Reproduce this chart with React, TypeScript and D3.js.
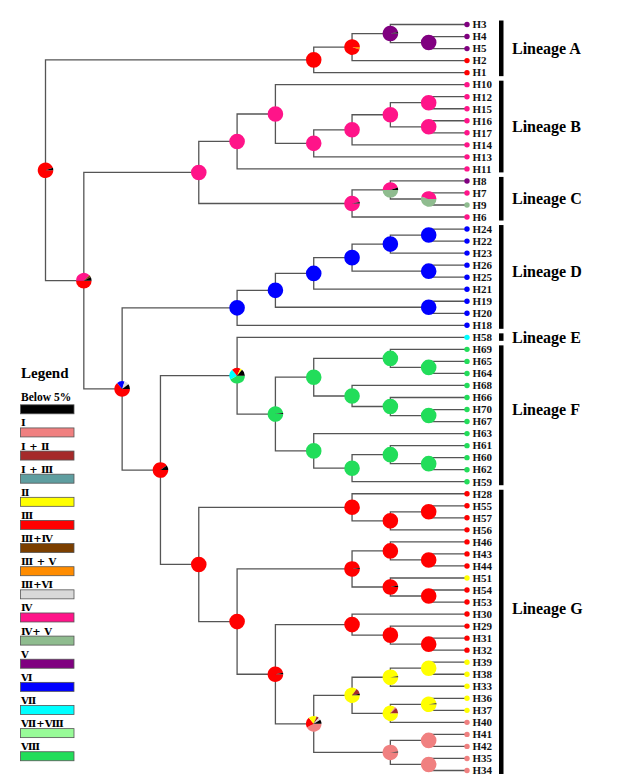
import React, { useMemo } from "react";
import * as d3 from "d3";

// ---------- data ----------
const regionKeys = ["B5", "I", "I+II", "I+III", "II", "III", "III+IV", "III+V", "III+VI", "IV", "IV+V", "V", "VI", "VII", "VII+VIII", "VIII"];
const regionLabels = ["Below 5%", "Ⅰ", "Ⅰ + Ⅱ", "Ⅰ + Ⅲ", "Ⅱ", "Ⅲ", "Ⅲ+Ⅳ", "Ⅲ + Ⅴ", "Ⅲ+Ⅵ", "Ⅳ", "Ⅳ+ Ⅴ", "Ⅴ", "Ⅵ", "Ⅶ", "Ⅶ+Ⅷ", "Ⅷ"];
const regionColors = ["#000000", "#F08080", "#A52A2A", "#5F9EA0", "#FFFF00", "#FF0000", "#7B3F00", "#FF8C00", "#D9D9D9", "#FF1489", "#8FBC8F", "#800080", "#0000FF", "#00FFFF", "#98FB98", "#22DD5A"];

// tree (Newick, internal nodes labelled)
const cladeA = "(((H3,(H4,H5)a4)a3,H2)a2,H1)a1";
const cladeB = "((H10,((((H12,H15)b6,(H16,H17)b7)b5,H14)b4,H13)b3)b2,H11)b1";
const cladeC = "((H8,(H7,H9)c3)c2,H6)c1";
const cladeD = "((((((H24,H22)d6,H23)d5,(H26,H25)d7)d4,H21)d3,(H19,H20)d8)d2,H18)d1";
const cladeF = "(((H69,(H65,H64)f4)f3,(H68,(H66,(H70,H67)f7)f6)f5)f2,(H63,((H61,(H60,H62)f11)f10,H59)f9)f8)f1";
const cladeG = "((H28,((H55,H57)g4,H56)g3)g2,(((H46,(H43,H44)g8)g7,(H51,(H54,H53)g10)g9)g6,((H30,(H29,(H31,H32)g14)g13)g12,((((H39,H38)g18,H33)g17,((H36,H37)g20,H40)g19)g16,((H41,H42)g22,(H35,H34)g23)g21)g15)g11)g5)g1";
const newick = `(${cladeA},((${cladeB},${cladeC})bc,(${cladeD},((H58,${cladeF})ef,${cladeG})n160)n122)n84)root;`;

// tip regions
const tipNames = ["H3", "H4", "H5", "H2", "H1", "H10", "H12", "H15", "H16", "H17", "H14", "H13", "H11", "H8", "H7", "H9", "H6",
  "H24", "H22", "H23", "H26", "H25", "H21", "H19", "H20", "H18", "H58", "H69", "H65", "H64", "H68", "H66", "H70", "H67", "H63", "H61", "H60", "H62", "H59",
  "H28", "H55", "H57", "H56", "H46", "H43", "H44", "H51", "H54", "H53", "H30", "H29", "H31", "H32", "H39", "H38", "H33", "H36", "H37", "H40", "H41", "H42", "H35", "H34"];
const tipRegions = ["V", "V", "V", "III", "III", "IV", "IV", "IV", "IV", "IV", "IV", "IV", "IV", "V", "IV", "IV+V", "IV",
  "VI", "VI", "VI", "VI", "VI", "VI", "VI", "VI", "VI", "VII", "VIII", "VIII", "VIII", "VIII", "VIII", "VIII", "VIII", "VIII", "VIII", "VIII", "VIII", "VIII",
  "III", "III", "III", "III", "III", "III", "III", "II", "III", "III", "III", "III", "III", "III", "II", "II", "II", "II", "II", "I", "I", "I", "I", "I"];

// ancestral-state pies (clockwise from 3 o'clock)
const pieNodes = ["root", "a1", "a2", "a3", "a4", "n84", "bc", "b1", "b2", "b3", "b4", "b5", "b6", "b7", "c1", "c2", "c3",
  "n122", "d1", "d2", "d3", "d4", "d5", "d6", "d7", "d8", "n160", "ef", "f1", "f2", "f3", "f4", "f5", "f6", "f7", "f8", "f9", "f10", "f11",
  "g1", "g2", "g3", "g4", "g5", "g6", "g7", "g8", "g9", "g10", "g11", "g12", "g13", "g14", "g15", "g16", "g17", "g18", "g19", "g20", "g21", "g22", "g23"];
const pieRegions: string[][] = [
  ["III", "B5"], ["III"], ["III+V", "III"], ["V", "B5"], ["V"], ["III", "IV", "III+IV", "B5"], ["IV"], ["IV"], ["IV"], ["IV"], ["IV"], ["IV"], ["IV"], ["IV"], ["IV", "B5"], ["IV+V", "IV", "B5"], ["IV+V", "IV"],
  ["III", "VI", "III+VI", "B5"], ["VI"], ["VI"], ["VI"], ["VI"], ["VI"], ["VI"], ["VI"], ["VI"], ["III", "B5"], ["VIII", "VII", "III", "II", "B5"], ["VIII", "B5"], ["VIII"], ["VIII"], ["VIII"], ["VIII"], ["VIII"], ["VIII"], ["VIII"], ["VIII"], ["VIII"], ["VIII"],
  ["III"], ["III"], ["III"], ["III"], ["III"], ["III", "B5"], ["III"], ["III"], ["III", "B5"], ["III"], ["III", "B5"], ["III"], ["III"], ["III"], ["I", "III", "II", "I+II", "III+VI", "B5"], ["II", "I+II", "B5"], ["II", "B5"], ["II"], ["II", "I", "I+II"], ["II", "B5"], ["I", "B5"], ["I"], ["I"],
];
const pieValues: number[][] = [
  [0.95, 0.05], [1], [0.05, 0.95], [0.97, 0.03], [1], [0.5, 0.38, 0.04, 0.08], [1], [1], [1], [1], [1], [1], [1], [1], [0.97, 0.03], [0.5, 0.45, 0.05], [0.55, 0.45],
  [0.64, 0.16, 0.1, 0.1], [1], [1], [1], [1], [1], [1], [1], [1], [0.9, 0.1], [0.42, 0.22, 0.18, 0.04, 0.14], [0.98, 0.02], [1], [1], [1], [1], [1], [1], [1], [1], [1], [1],
  [1], [1], [1], [1], [1], [0.98, 0.02], [1], [1], [0.97, 0.03], [1], [0.97, 0.03], [1], [1], [1], [0.42, 0.22, 0.17, 0.05, 0.05, 0.09], [0.85, 0.12, 0.03], [0.98, 0.02], [1], [0.85, 0.03, 0.12], [0.98, 0.02], [0.98, 0.02], [1], [1],
];

const lineageNames = ["Lineage A", "Lineage B", "Lineage C", "Lineage D", "Lineage E", "Lineage F", "Lineage G"];
const lineageFirst = ["H3", "H10", "H8", "H24", "H58", "H69", "H28"];
const lineageLast = ["H1", "H11", "H6", "H18", "H58", "H59", "H34"];
const lineageLabelA = ["H5", "H16", "H7", "H26", "H58", "H70", "H53"];
const lineageLabelB = ["H5", "H17", "H9", "H25", "H58", "H70", "H30"];

// ---------- layout constants ----------
const W = 617, H = 783;
const X0 = 45.5, TREE_W = 421.5;
const Y0 = 18.5, TREE_H = 758;
const PIE_R = 7.8;
const SERIF = "'Times New Roman', 'Liberation Serif', serif";

type TNode = { name: string; children?: TNode[] };

function parseNewick(s: string): TNode {
  let i = 0;
  const readName = () => {
    let n = "";
    while (i < s.length && !"(),;".includes(s[i])) n += s[i++];
    return n.trim();
  };
  const node = (): TNode => {
    if (s[i] === "(") {
      i++;
      const kids: TNode[] = [];
      while (true) {
        kids.push(node());
        if (s[i] === ",") { i++; continue; }
        if (s[i] === ")") { i++; break; }
        break;
      }
      return { name: readName(), children: kids };
    }
    return { name: readName() };
  };
  return node();
}

const colorOf = (k: string) => regionColors[regionKeys.indexOf(k)];

export default function App() {
  const { nodes, links, tipY } = useMemo(() => {
    const root = d3.hierarchy<TNode>(parseNewick(newick));
    d3.cluster<TNode>().size([TREE_H, TREE_W]).separation(() => 1)(root);
    const nodes = root.descendants().map((n) => ({
      id: n.data.name,
      leaf: !n.children,
      x: X0 + (n as any).y,
      y: Y0 + (n as any).x,
    }));
    const links = root.links().map((l) => ({
      sx: X0 + (l.source as any).y, sy: Y0 + (l.source as any).x,
      tx: X0 + (l.target as any).y, ty: Y0 + (l.target as any).x,
    }));
    const tipY: Record<string, number> = {};
    nodes.forEach((n) => { if (n.leaf) tipY[n.id] = n.y; });
    return { nodes, links, tipY };
  }, []);

  const pieGen = d3.pie<number>().sort(null).value((v) => v).startAngle(Math.PI / 2).endAngle(Math.PI / 2 + 2 * Math.PI);
  const arcGen = d3.arc<d3.PieArcDatum<number>>().innerRadius(0).outerRadius(PIE_R);

  const legendTop = 404.8, legendStep = 23.13;

  return (
    <svg width={W} height={H} style={{ position: "absolute", left: 0, top: 0, background: "#fff" }}>
      <g fill="none" stroke="#555" strokeWidth={1.3}>
        {links.map((l, i) => (
          <path key={i} d={`M${l.sx},${l.sy}V${l.ty}H${l.tx}`} />
        ))}
      </g>
      {nodes.filter((n) => !n.leaf).map((n) => {
        const idx = pieNodes.indexOf(n.id);
        const regs = idx >= 0 ? pieRegions[idx] : ["B5"];
        const arcs = pieGen(idx >= 0 ? pieValues[idx] : [1]);
        return (
          <g key={n.id} transform={`translate(${n.x},${n.y})`}>
            {arcs.map((a, j) => (
              <path key={j} d={arcGen(a) || ""} fill={colorOf(regs[j])} />
            ))}
          </g>
        );
      })}
      {nodes.filter((n) => n.leaf).map((n) => {
        const reg = tipRegions[tipNames.indexOf(n.id)];
        return (
          <g key={n.id}>
            <circle cx={n.x} cy={n.y} r={2.7} fill={colorOf(reg)} />
            <text x={n.x + 5.5} y={n.y + 3.8} fontFamily={SERIF} fontWeight="bold" fontSize={11} fill="#111">{n.id}</text>
          </g>
        );
      })}
      {lineageNames.map((name, i) => {
        const y0 = tipY[lineageFirst[i]] - 4;
        const y1 = tipY[lineageLast[i]] + 3.5;
        const ly = (tipY[lineageLabelA[i]] + tipY[lineageLabelB[i]]) / 2;
        return (
          <g key={name}>
            <rect x={499} y={y0} width={4.5} height={y1 - y0} fill="#000" />
            <text x={512} y={ly + 5.5} fontFamily={SERIF} fontWeight="bold" fontSize={16} fill="#000">{name}</text>
          </g>
        );
      })}
      <text x={21} y={378} fontFamily={SERIF} fontWeight="bold" fontSize={15} fill="#000">Legend</text>
      {regionLabels.map((lab, i) => {
        const top = legendTop + i * legendStep;
        return (
          <g key={lab + i}>
            <text x={21} y={top - (i === 0 ? 3.5 : 1.5)}
              fontFamily={i === 0 ? SERIF : "'DejaVu Serif', 'Noto Sans CJK SC', serif"}
              fontWeight="bold" fontSize={i === 0 ? 11.5 : 10} fill="#000">{lab}</text>
            <rect x={20.5} y={top} width={53.5} height={9} fill={regionColors[i]} stroke="#555" strokeWidth={0.8} />
          </g>
        );
      })}
    </svg>
  );
}
